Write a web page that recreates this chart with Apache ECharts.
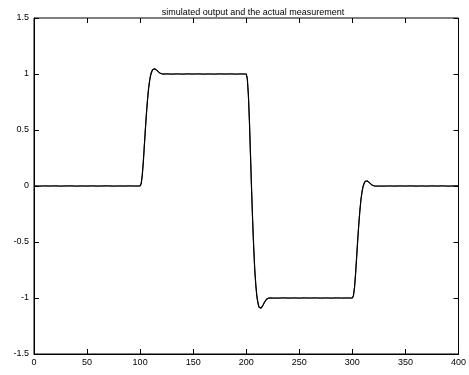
<!DOCTYPE html>
<html>
<head>
<meta charset="utf-8">
<script src="https://cdn.jsdelivr.net/npm/echarts@6/dist/echarts.min.js"></script>
<style>html,body{margin:0;padding:0;background:#fff}#c{width:469px;height:375px}</style>
</head>
<body>
<div id="c"></div>
<script>
var titleText = "simulated output and the actual measurement";
var xTicks = [0, 50, 100, 150, 200, 250, 300, 350, 400];
var yTicks = [-1.5, -1, -0.5, 0, 0.5, 1, 1.5];

// simulated output (time, value)
var simT = [0,
  100,101,102,103,104,105,106,107,108,109,110,111,112,113,114,115,116,117,118,119,120,121,122,123,124,125,
  200,201,202,203,204,205,206,207,208,209,210,211,212,213,214,215,216,217,218,219,220,221,222,223,224,225,
  300,301,302,303,304,305,306,307,308,309,310,311,312,313,314,315,316,317,318,319,320,321,322,323,324,325,
  400];
var simY = [0,
  0,0.02,0.09,0.21,0.36,0.51,0.65,0.77,0.87,0.94,0.99,1.02,1.04,1.045,1.045,1.04,1.03,1.02,1.012,1.006,1.002,1.0,0.999,0.999,1.0,1.0,
  1.0,0.96,0.82,0.58,0.28,-0.02,-0.30,-0.54,-0.74,-0.88,-0.98,-1.04,-1.08,-1.09,-1.09,-1.08,-1.06,-1.04,-1.024,-1.012,-1.004,-1.0,-0.998,-0.998,-1.0,-1.0,
  -1.0,-0.98,-0.91,-0.79,-0.64,-0.49,-0.35,-0.23,-0.13,-0.06,-0.01,0.02,0.04,0.045,0.045,0.04,0.03,0.02,0.012,0.006,0.002,0.0,-0.001,-0.001,0.0,0.0,
  0];

// actual measurement (time, value)
var measT = [0,5,10,15,20,25,30,35,40,45,50,55,60,65,70,75,80,85,90,95,
  100,101,102,103,104,105,106,107,108,109,110,111,112,113,114,115,116,117,118,119,120,121,122,123,124,125,
  130,135,140,145,150,155,160,165,170,175,180,185,190,195,
  200,201,202,203,204,205,206,207,208,209,210,211,212,213,214,215,216,217,218,219,220,221,222,223,224,225,
  230,235,240,245,250,255,260,265,270,275,280,285,290,295,
  300,301,302,303,304,305,306,307,308,309,310,311,312,313,314,315,316,317,318,319,320,321,322,323,324,325,
  330,335,340,345,350,355,360,365,370,375,380,385,390,395,400];
var measY = [0.001,-0.002,0.002,-0.001,0.002,-0.002,0.001,0.002,-0.002,0.001,-0.001,0.002,-0.002,0.001,0.002,-0.002,0.001,-0.001,0.002,-0.001,
  0.001,0.025,0.1,0.22,0.37,0.52,0.66,0.78,0.88,0.95,1.0,1.03,1.045,1.05,1.048,1.042,1.032,1.022,1.013,1.007,1.003,1.001,0.999,1.001,0.998,1.002,
  0.998,1.002,0.998,1.002,0.999,1.002,0.998,1.001,0.998,1.002,0.999,1.002,0.998,1.001,
  0.999,0.955,0.81,0.57,0.27,-0.03,-0.31,-0.55,-0.75,-0.89,-0.99,-1.05,-1.085,-1.095,-1.092,-1.082,-1.062,-1.042,-1.026,-1.013,-1.005,-1.002,-0.998,-1.002,-0.998,-1.001,
  -1.002,-0.998,-1.002,-0.999,-1.002,-0.998,-1.001,-0.998,-1.002,-0.999,-1.002,-0.998,-1.001,-0.999,
  -1.001,-0.978,-0.905,-0.785,-0.635,-0.485,-0.345,-0.225,-0.125,-0.055,-0.005,0.025,0.043,0.048,0.046,0.041,0.031,0.021,0.013,0.007,0.003,0.001,-0.002,0.001,-0.001,0.002,
  -0.002,0.001,-0.002,0.002,-0.001,0.002,-0.002,0.001,-0.002,0.002,-0.001,0.002,-0.002,0.001,0.001];

function pairs(t, y) { var out = []; for (var i = 0; i < t.length; i++) out.push([t[i], y[i]]); return out; }

var font = 'Liberation Sans, Arial, Helvetica, sans-serif';
var xMin = xTicks[0], xMax = xTicks[xTicks.length - 1];
var yMin = yTicks[0], yMax = yTicks[yTicks.length - 1];
var TICK = 5;
var chart = echarts.init(document.getElementById('c'), null, {renderer: 'canvas'});

chart.setOption({
  animation: false,
  backgroundColor: '#fff',
  title: {text: titleText, left: 248, textAlign: 'center', top: 3,
    textStyle: {fontFamily: font, fontSize: 9, fontWeight: 'normal', color: '#000'}},
  grid: {left: 34, right: 7, top: 18, bottom: 21, show: true, borderColor: '#000', borderWidth: 1, backgroundColor: 'transparent'},
  xAxis: {type: 'value', min: xMin, max: xMax, interval: 50,
    axisLine: {show: true, onZero: false, lineStyle: {color: '#000', width: 1}},
    axisTick: {show: false},
    axisLabel: {color: '#000', fontSize: 9, fontFamily: font, margin: 4}, splitLine: {show: false}},
  yAxis: {type: 'value', min: yMin, max: yMax, interval: 0.5,
    axisLine: {show: true, onZero: false, lineStyle: {color: '#000', width: 1}},
    axisTick: {show: false},
    axisLabel: {color: '#000', fontSize: 9, fontFamily: font, margin: 5}, splitLine: {show: false}},
  series: [
    {name: 'measured', type: 'line', data: pairs(measT, measY), showSymbol: false, symbol: 'none',
     lineStyle: {color: '#222', width: 1}},
    {name: 'simulated', type: 'line', data: pairs(simT, simY), showSymbol: false, symbol: 'none',
     lineStyle: {color: '#000', width: 1.2}}
  ]
});

// Inward tick marks on all four sides, placed with the axes' own scales
var tickEls = [];
var st = {stroke: '#000', lineWidth: 1};
xTicks.forEach(function (v) {
  var b = chart.convertToPixel({gridIndex: 0}, [v, yMin]);
  var t = chart.convertToPixel({gridIndex: 0}, [v, yMax]);
  var x = Math.round(b[0]) + 0.5;
  tickEls.push({type: 'line', z: 100, silent: true, shape: {x1: x, y1: b[1], x2: x, y2: b[1] - TICK}, style: st});
  tickEls.push({type: 'line', z: 100, silent: true, shape: {x1: x, y1: t[1], x2: x, y2: t[1] + TICK}, style: st});
});
yTicks.forEach(function (v) {
  var l = chart.convertToPixel({gridIndex: 0}, [xMin, v]);
  var r = chart.convertToPixel({gridIndex: 0}, [xMax, v]);
  var y = Math.round(l[1]) + 0.5;
  tickEls.push({type: 'line', z: 100, silent: true, shape: {x1: l[0], y1: y, x2: l[0] + TICK, y2: y}, style: st});
  tickEls.push({type: 'line', z: 100, silent: true, shape: {x1: r[0], y1: y, x2: r[0] - TICK, y2: y}, style: st});
});
chart.setOption({graphic: {elements: tickEls}});
</script>
</body>
</html>
